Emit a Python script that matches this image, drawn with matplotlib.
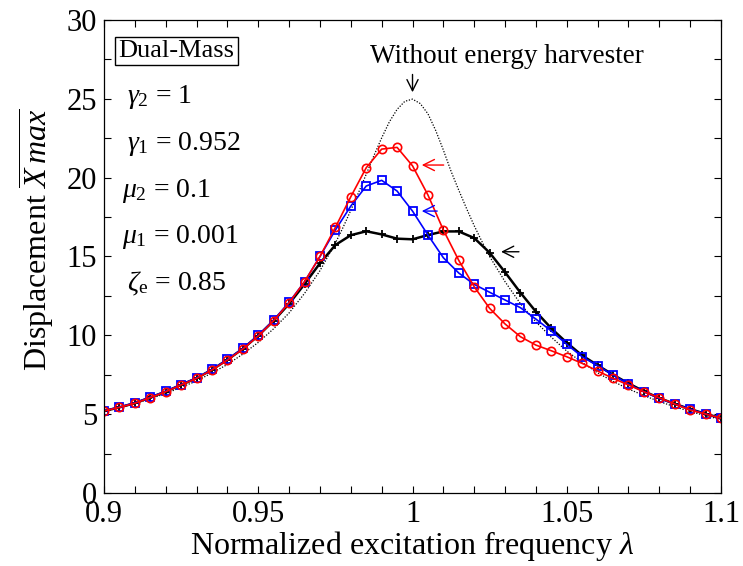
import numpy as np
import matplotlib
matplotlib.use('Agg')
import matplotlib.pyplot as plt

plt.rcParams['font.family'] = ['Liberation Serif', 'DejaVu Serif']
plt.rcParams['mathtext.fontset'] = 'custom'
plt.rcParams['mathtext.rm'] = 'Liberation Serif'
plt.rcParams['mathtext.it'] = 'Liberation Serif:italic'

# excitation frequency grid (markers every 0.005)
lam = [0.900, 0.905, 0.910, 0.915, 0.920, 0.925, 0.930, 0.935, 0.940, 0.945,
       0.950, 0.955, 0.960, 0.965, 0.970, 0.975, 0.980, 0.985, 0.990, 0.995,
       1.000, 1.005, 1.010, 1.015, 1.020, 1.025, 1.030, 1.035, 1.040, 1.045,
       1.050, 1.055, 1.060, 1.065, 1.070, 1.075, 1.080, 1.085, 1.090, 1.095,
       1.100]

# red circles
x_red = [5.20, 5.43, 5.69, 6.05, 6.42, 6.85, 7.27, 7.80, 8.43, 9.13,
         9.96, 10.93, 12.07, 13.40, 15.00, 16.85, 18.79, 20.63, 21.81, 21.92,
         20.75, 18.90, 16.68, 14.75, 13.08, 11.71, 10.72, 9.91, 9.38, 9.02,
         8.64, 8.22, 7.74, 7.27, 6.85, 6.42, 6.04, 5.64, 5.26, 5.01,
         4.74]

# blue squares
x_blue = [5.22, 5.45, 5.72, 6.08, 6.45, 6.88, 7.30, 7.84, 8.47, 9.17,
          10.00, 10.97, 12.10, 13.40, 15.00, 16.68, 18.20, 19.47, 19.83, 19.15,
          17.88, 16.36, 14.92, 13.95, 13.23, 12.73, 12.24, 11.75, 11.03, 10.27,
          9.43, 8.64, 8.07, 7.48, 6.91, 6.42, 6.00, 5.64, 5.31, 5.01,
          4.74]

# black plus
x_black = [5.20, 5.43, 5.70, 6.06, 6.43, 6.86, 7.28, 7.82, 8.45, 9.15,
           9.98, 10.93, 12.00, 13.25, 14.57, 15.73, 16.35, 16.60, 16.40, 16.13,
           16.09, 16.36, 16.59, 16.59, 16.17, 15.24, 14.00, 12.70, 11.50, 10.44,
           9.53, 8.72, 8.10, 7.50, 6.95, 6.45, 6.02, 5.65, 5.32, 5.02,
           4.75]

# without energy harvester (dotted)
lam_free = [0.900, 0.905, 0.910, 0.915, 0.920, 0.925, 0.930, 0.935, 0.940, 0.945,
            0.950, 0.955, 0.960, 0.965, 0.970, 0.975, 0.9775, 0.980, 0.9825, 0.985,
            0.9875, 0.990, 0.9925, 0.995, 0.9975, 1.000, 1.0025, 1.005, 1.0075, 1.010,
            1.0125, 1.015, 1.0175, 1.020, 1.0225, 1.025, 1.030, 1.035, 1.040, 1.045,
            1.050, 1.055, 1.060, 1.065, 1.070, 1.075, 1.080, 1.085, 1.090, 1.095,
            1.100]
x_free = [5.15, 5.42, 5.67, 5.99, 6.30, 6.71, 7.10, 7.62, 8.15, 8.81,
          9.55, 10.42, 11.42, 12.66, 14.10, 15.85, 16.85, 17.93, 19.05, 20.22,
          21.40, 22.52, 23.54, 24.33, 24.84, 24.98, 24.70, 24.05, 23.00, 21.75,
          20.40, 19.20, 18.05, 16.95, 15.95, 15.00, 13.40, 12.00, 10.85, 9.88,
          9.00, 8.28, 7.62, 7.08, 6.60, 6.18, 5.80, 5.47, 5.17, 4.90,
          4.66]

params = [r'$\gamma_2$ = 1', r'$\gamma_1$ = 0.952', r'$\mu_2$ = 0.1',
          r'$\mu_1$ = 0.001', r'$\zeta_{\mathrm{e}}$ = 0.85']
param_x = [0.9075, 0.9075, 0.9057, 0.9057, 0.9075]
param_y = [24.71, 21.75, 18.79, 15.83, 12.87]

xticks = [0.9, 0.91, 0.92, 0.93, 0.94, 0.95, 0.96, 0.97, 0.98, 0.99, 1.0,
          1.01, 1.02, 1.03, 1.04, 1.05, 1.06, 1.07, 1.08, 1.09, 1.1]
xlabels = ['0.9', '', '', '', '', '0.95', '', '', '', '', '1',
           '', '', '', '', '1.05', '', '', '', '', '1.1']
yticks = [0, 2.5, 5, 7.5, 10, 12.5, 15, 17.5, 20, 22.5, 25, 27.5, 30]
ylabels = ['0', '', '5', '', '10', '', '15', '', '20', '', '25', '', '30']

fig = plt.figure(figsize=(7.43, 5.66), dpi=100)
ax = fig.add_axes([0.140, 0.129, 0.8304, 0.8357])

ax.plot(lam_free, x_free, color='black', lw=0.9, ls=(0, (1, 1.3)))
ax.plot(lam, x_black, color='black', lw=1.8, marker='+', ms=6, mew=1.3)
ax.plot(lam, x_blue, color='blue', lw=1.2, marker='s', ms=6, mfc='none', mew=1.3)
ax.plot(lam, x_red, color='red', lw=1.2, marker='o', ms=6, mfc='none', mew=1.2)

ax.set_xlim(0.9, 1.1)
ax.set_ylim(0, 30)
ax.set_xticks(xticks)
ax.set_xticklabels(xlabels)
ax.set_yticks(yticks)
ax.set_yticklabels(ylabels)
ax.tick_params(direction='in', top=True, right=True, length=5, width=0.8,
               labelsize=22, pad=5)
for s in ax.spines.values():
    s.set_linewidth(0.9)

ax.set_xlabel(r'Normalized excitation frequency $\lambda$', fontsize=23, labelpad=0)
ax.set_ylabel(r'Displacement $\overline{X\,max}$', fontsize=23)
ax.yaxis.set_label_coords(-0.078, 0.535)

ax.text(0.90464, 27.67, 'Dual-Mass', fontsize=19, ha='left', va='baseline',
        bbox=dict(boxstyle='square,pad=0.12', fc='white', ec='black', lw=1))
for t, px, py in zip(params, param_x, param_y):
    ax.text(px, py, t, fontsize=20, ha='left', va='baseline')

ax.text(0.98622, 27.25, 'Without energy harvester', fontsize=19.5,
        ha='left', va='baseline')

arrow = dict(arrowstyle='->', lw=1.0, mutation_scale=20)
ax.annotate('', xy=(1.0, 25.24), xytext=(1.0, 26.72),
            arrowprops=dict(arrow, color='black'))
ax.annotate('', xy=(1.0021, 20.8), xytext=(1.011, 20.8),
            arrowprops=dict(arrow, color='red'))
ax.annotate('', xy=(1.0021, 17.88), xytext=(1.0089, 17.88),
            arrowprops=dict(arrow, color='blue'))
ax.annotate('', xy=(1.0278, 15.3), xytext=(1.0354, 15.3),
            arrowprops=dict(arrow, color='black'))

fig.savefig('out.png', dpi=100)
